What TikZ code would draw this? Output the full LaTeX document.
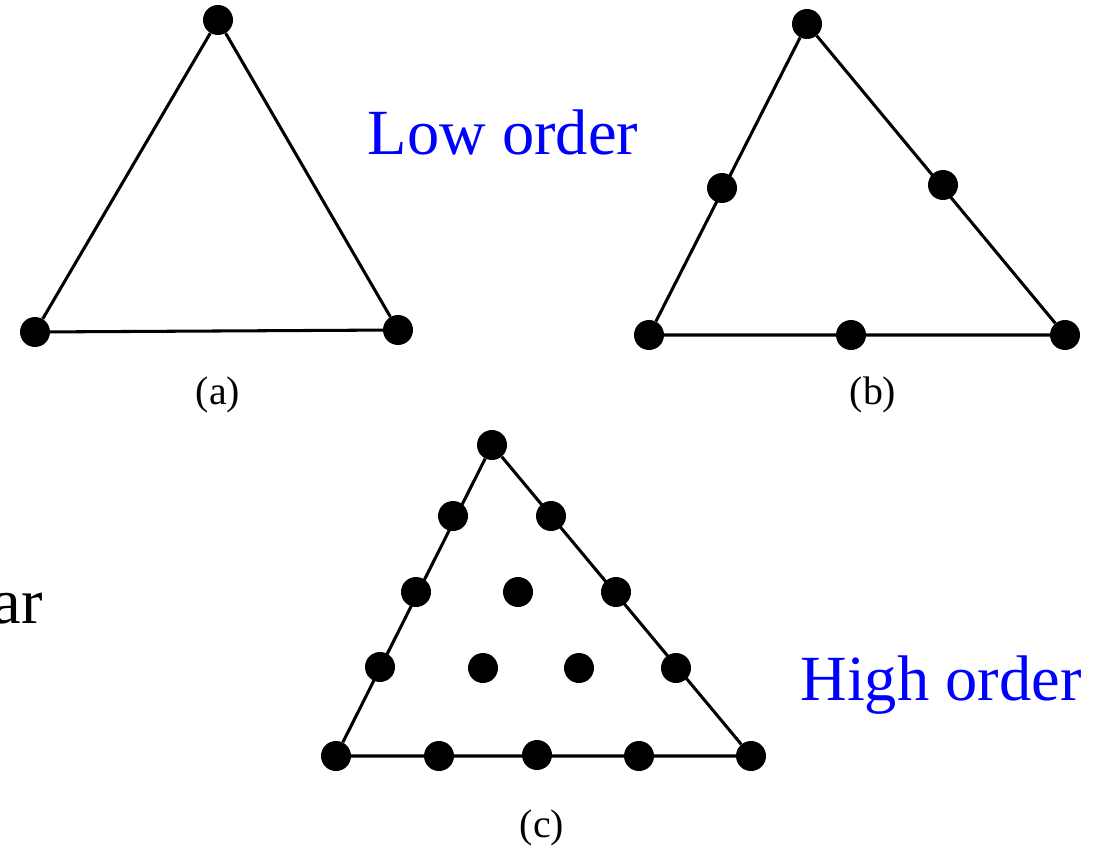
\documentclass[tikz,border=0pt]{standalone}
\usepackage{fontspec}
\setmainfont{Liberation Serif}
\usetikzlibrary{positioning}

\begin{document}
\begin{tikzpicture}[x=0.03cm, y=-0.03cm,
    dot/.style={circle, fill=black, inner sep=0pt, minimum size=0.9cm},
    edge/.style={line width=2.6pt},
    caption/.style={font=\fontsize{34}{40}\selectfont},
    order/.style={font=\fontsize{55}{60}\selectfont, text=blue}]
  \useasboundingbox (0,0) rectangle (1102,851);
  % (a) linear element
  \node[dot] (a1) at (218,20)  {};
  \node[dot] (a2) at (35,332)  {};
  \node[dot] (a3) at (398,330) {};
  \draw[edge] (a1)--(a2)--(a3)--(a1);
  \node[caption] (capa) at (218,395) {(a)};
  % (b) quadratic element
  \node[dot] (b1) at (807,24)  {};
  \node[dot] (b2) at (649,335) {};
  \node[dot] (b3) at (1065,335) {};
  \draw[edge] (b1)--(b2)--(b3)--(b1);
  \node[dot] (b12) at (722,188) {};
  \node[dot] (b23) at (851,335) {};
  \node[dot] (b31) at (943,185) {};
  \node[caption] (capb) at (873,395) {(b)};
  % (c) high order element
  \node[dot] (c1) at (492,445) {};
  \node[dot] (c2) at (336,756) {};
  \node[dot] (c3) at (751,756) {};
  \draw[edge] (c1)--(c2)--(c3)--(c1);
  \foreach \px/\py [count=\i] in {453/516, 416/592, 380/667,
      551/516, 616/592, 676/668,
      439/756, 537/755, 639/756,
      518/592, 483/668, 579/668}
    \node[dot] (c\i) at (\px,\py) {};
  \node[caption] (capc) at (542,828) {(c)};
  % labels
  \node[order, anchor=base] (low) at (503,155) {Low order};
  \node[order, anchor=base] (high) at (941,700) {High order};
  \node[order, text=black, anchor=base east, inner sep=0pt] (lin) at (43,623) {ar};
\end{tikzpicture}
\end{document}
